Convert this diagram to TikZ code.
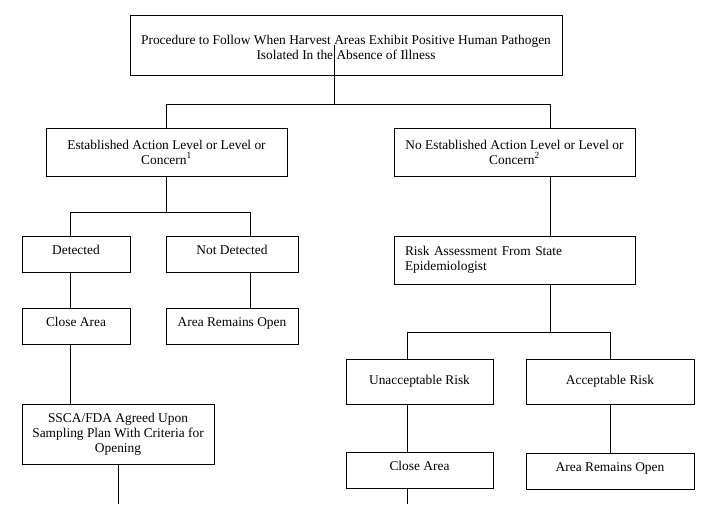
\documentclass[tikz,border=0pt]{standalone}
\usepackage{fontspec}
\setmainfont{Liberation Serif}
\begin{document}
\begin{tikzpicture}[x=1pt,y=-1pt,
	box/.style={draw, line width=0.9pt, align=center, inner sep=0pt, font=\fontsize{13.4}{15}\selectfont},
	oneline/.style={box, text height=9.5pt, text depth=8pt},
	link/.style={line width=0.9pt}]
	\useasboundingbox (0,0) rectangle (710,504);

	\node[box, minimum width=432, minimum height=60] (top) at (346,45) {\mbox{}\\Procedure to Follow When Harvest Areas Exhibit Positive Human Pathogen\\Isolated In the Absence of Illness};

	\node[box, minimum width=241, minimum height=48] (est) at (166.5,152) {Established Action Level or Level or\\Concern\textsuperscript{1}};
	\node[box, minimum width=241, minimum height=48] (noest) at (514.5,152) {No Established Action Level or Level or\\Concern\textsuperscript{2}};

	\node[oneline, minimum width=108, minimum height=36] (det) at (76,254) {Detected};
	\node[oneline, minimum width=132, minimum height=36] (notdet) at (232,254) {Not Detected};
	\node[oneline, minimum width=108, minimum height=36] (close) at (76,326) {Close Area};
	\node[oneline, minimum width=132, minimum height=36] (open) at (232,326) {Area Remains Open};
	\node[box, minimum width=192, minimum height=60] (plan) at (118,434) {SSCA/FDA Agreed Upon\\Sampling Plan With Criteria for\\Opening};

	\node[box, align=left, text width=219, minimum width=241, minimum height=48] (risk) at (514.5,260) {Risk Assessment From State\\Epidemiologist};
	\node[box, minimum width=147, minimum height=45] (unacc) at (419.5,381.5) {Unacceptable Risk};
	\node[box, minimum width=168, minimum height=45] (acc) at (610,381.5) {Acceptable Risk};
	\node[oneline, minimum width=147, minimum height=36] (close2) at (419.5,470) {Close Area};
	\node[oneline, minimum width=168, minimum height=36] (open2) at (610,471) {Area Remains Open};

	\coordinate (b1) at (334,104);
	\coordinate (b2) at (550,104);
	\coordinate (b3) at (70,212);
	\coordinate (b4) at (250,212);
	\coordinate (b5) at (407,332);
	\coordinate (b6) at (610,332);
	\coordinate (e1) at (118,504);
	\coordinate (e2) at (407,504);

	\draw[link] (b1 |- top.center) -- (b1);
	\draw[link] (est.north) |- (b2) -- (noest.north -| b2);

	\draw[link] (est.south) -- (est.south |- b3);
	\draw[link] (det.north -| b3) -- (b3) -- (b4) -- (notdet.north -| b4);
	\draw[link] (det.south -| b3) -- (close.north -| b3);
	\draw[link] (notdet.south -| b4) -- (open.north -| b4);
	\draw[link] (close.south -| b3) -- (plan.north -| b3);
	\draw[link] (plan.south) -- (e1);

	\draw[link] (noest.south -| b2) -- (risk.north -| b2);
	\draw[link] (risk.south -| b2) -- (b2 |- b5);
	\draw[link] (unacc.north -| b5) -- (b5) -- (b6) -- (acc.north);
	\draw[link] (unacc.south -| b5) -- (close2.north -| b5);
	\draw[link] (acc.south) -- (open2.north);
	\draw[link] (close2.south -| b5) -- (e2);
\end{tikzpicture}
\end{document}
